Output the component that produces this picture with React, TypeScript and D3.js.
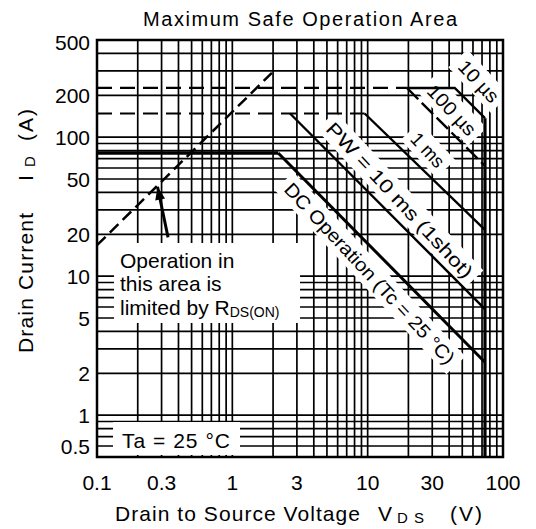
import React from 'react';
import * as d3 from 'd3';

// ---- data (V in volts, I in amperes) ----
const xTickLabels = [0.1, 0.3, 1, 3, 10, 30, 100];
const yTickLabels = [500, 200, 100, 50, 20, 10, 5, 2, 1, 0.5];

const rdsLimit: number[][] = [[0.1, 16.7], [1.96, 290]];
const idPulseLimit: number[][] = [[0.1, 226], [19.5, 226]];
const id10msLimit: number[][] = [[0.1, 148], [9.5, 148]];
const dcLimit: number[][] = [[0.1, 77], [2.18, 77]];

const curve10us: number[][] = [[19.5, 226], [44, 226], [73.6, 137]];
const curve100us: number[][] = [[19.5, 226], [73.6, 62]];
const curve1ms: number[][] = [[9.5, 148], [73.6, 21.5]];
const curve10ms: number[][] = [[2.67, 148], [73.6, 5.8]];
const curveDC: number[][] = [[2.18, 77], [73.6, 2.4]];
const vdssLine: number[][] = [[73.6, 0.5], [73.6, 137]];
const rdsArrow: number[][] = [[0.335, 19], [0.28, 44]];

const diagTexts = ['10 µs', '100 µs', '1 ms', 'PW = 10 ms (1shot)', 'DC Operation (Tc = 25 °C)'];
const diagAnchors: number[][] = [[66.5, 253], [42, 157], [27.9, 81], [17.3, 35.3], [10.4, 10.5]];
const diagLengths = [50, 62, 40, 205, 240];

const opTextLines = ['Operation in', 'this area is', 'limited by R'];
const opAnchor: number[] = [0.148, 11.45];
const taText = 'Ta = 25 °C';
const taAnchor: number[] = [0.153, 0.58];

const FONT = "'Liberation Sans', Arial, Helvetica, sans-serif";

export default function App() {
  const xs = d3.scaleLog().domain([0.1, 100]).range([97, 503]);
  const ys = d3.scaleLog().domain([0.5, 500]).range([457, 40]);
  const line = d3.line<number[]>().x(d => xs(d[0])).y(d => ys(d[1]));

  const xGrid = xs.ticks();
  const yGrid = ys.ticks();
  const [x0, x1] = xs.range();
  const [y0, y1] = ys.range();

  // arrow
  const a0 = [xs(rdsArrow[0][0]), ys(rdsArrow[0][1])];
  const a1 = [xs(rdsArrow[1][0]), ys(rdsArrow[1][1])];
  const ang = Math.atan2(a1[1] - a0[1], a1[0] - a0[0]);
  const ah = 13, aw = 5;
  const arrowHead = [
    [a1[0], a1[1]],
    [a1[0] - ah * Math.cos(ang) + aw * Math.sin(ang), a1[1] - ah * Math.sin(ang) - aw * Math.cos(ang)],
    [a1[0] - ah * Math.cos(ang) - aw * Math.sin(ang), a1[1] - ah * Math.sin(ang) + aw * Math.cos(ang)],
  ].map(p => p.join(',')).join(' ');

  const opX = xs(opAnchor[0]);
  const opY = ys(opAnchor[1]);
  const taX = xs(taAnchor[0]);
  const taY = ys(taAnchor[1]);

  const rot = 47;

  return (
    <svg width={536} height={529} style={{ position: 'absolute', left: 0, top: 0, background: '#fff' }} fontFamily={FONT}>
      <rect x={0} y={0} width={536} height={529} fill="#fff" />
      {/* title */}
      <text x={300} y={26} fontSize={20} textAnchor="middle" textLength={314} lengthAdjust="spacing">Maximum Safe Operation Area</text>

      {/* grid */}
      <g stroke="#000" strokeWidth={1.7}>
        {xGrid.map((v, i) => <line key={'gx' + i} x1={xs(v)} x2={xs(v)} y1={y0} y2={y1} />)}
        {yGrid.map((v, i) => <line key={'gy' + i} x1={x0} x2={x1} y1={ys(v)} y2={ys(v)} />)}
      </g>

      {/* white bands behind labels */}
      {diagTexts.map((t, i) => {
        const cx = xs(diagAnchors[i][0]);
        const cy = ys(diagAnchors[i][1]);
        const L = diagLengths[i];
        return (
          <g key={'band' + i} transform={`translate(${cx},${cy}) rotate(${rot})`}>
            <rect x={-L / 2 - 6} y={-13} width={L + 12} height={26} fill="#fff" />
          </g>
        );
      })}
      <rect x={opX - 6} y={opY - 25} width={186} height={80} fill="#fff" />
      <rect x={taX - 9} y={taY - 26} width={127} height={y0 - taY + 24} fill="#fff" />

      {/* border */}
      <rect x={x0} y={y1} width={x1 - x0} height={y0 - y1} fill="none" stroke="#000" strokeWidth={2.5} />

      {/* limit lines */}
      <g fill="none" stroke="#000">
        <path d={line(rdsLimit) || ''} strokeWidth={2.5} strokeDasharray="12,6" />
        <path d={line(idPulseLimit) || ''} strokeWidth={2.2} strokeDasharray="15,8" />
        <path d={line(id10msLimit) || ''} strokeWidth={2.2} strokeDasharray="15,8" />
        <path d={line(dcLimit) || ''} strokeWidth={3.5} />
        <path d={line(curve10us) || ''} strokeWidth={2.4} />
        <path d={line(curve100us) || ''} strokeWidth={2.4} strokeDasharray="16,5" />
        <path d={line(curve1ms) || ''} strokeWidth={2.4} />
        <path d={line(curve10ms) || ''} strokeWidth={2.4} />
        <path d={line(curveDC) || ''} strokeWidth={3} />
        <path d={line(vdssLine) || ''} strokeWidth={3.2} />
        <path d={line(rdsArrow) || ''} strokeWidth={3} />
      </g>
      <polygon points={arrowHead} fill="#000" />

      {/* diagonal labels */}
      {diagTexts.map((t, i) => {
        const cx = xs(diagAnchors[i][0]);
        const cy = ys(diagAnchors[i][1]);
        const L = diagLengths[i];
        return (
          <g key={'dl' + i} transform={`translate(${cx},${cy}) rotate(${rot})`}>
            <text x={0} y={7} fontSize={19} textAnchor="middle" textLength={L} lengthAdjust="spacingAndGlyphs">{t}</text>
          </g>
        );
      })}

      {/* operation text */}
      {opTextLines.map((t, i) => (
        <text key={'op' + i} x={opX} y={opY + i * 23.5} fontSize={21}>
          {t}
          {i === 2 ? <tspan fontSize={14} dy={2}>DS(ON)</tspan> : null}
        </text>
      ))}

      {/* Ta label */}
      <text x={taX} y={taY} fontSize={21} textLength={108} lengthAdjust="spacing">{taText}</text>

      {/* x tick labels */}
      {xTickLabels.map((v, i) => (
        <text key={'xt' + i} x={xs(v)} y={490} fontSize={21} textAnchor="middle">{String(v)}</text>
      ))}
      {/* y tick labels */}
      {yTickLabels.map((v, i) => {
        const yy = Math.min(446, Math.max(42, ys(v)));
        return (
          <text key={'yt' + i} x={90} y={yy} dy="0.36em" fontSize={21} textAnchor="end">{String(v)}</text>
        );
      })}

      {/* x axis title */}
      <text x={115} y={521} fontSize={21} textLength={245} lengthAdjust="spacing">Drain to Source Voltage</text>
      <text x={378} y={521} fontSize={21}>V</text>
      <text x={397} y={523} fontSize={15} textLength={27} lengthAdjust="spacing">DS</text>
      <text x={450} y={521} fontSize={21} textLength={32} lengthAdjust="spacing">(V)</text>

      {/* y axis title */}
      <g transform="translate(33,353) rotate(-90)">
        <text x={0} y={0} fontSize={21} textLength={140} lengthAdjust="spacing">Drain Current</text>
      </g>
      <g transform="translate(33,181) rotate(-90)">
        <text x={0} y={0} fontSize={21}>I</text>
      </g>
      <g transform="translate(35,167) rotate(-90)">
        <text x={0} y={0} fontSize={15}>D</text>
      </g>
      <g transform="translate(33,141) rotate(-90)">
        <text x={0} y={0} fontSize={21} textLength={32} lengthAdjust="spacing">(A)</text>
      </g>
    </svg>
  );
}
